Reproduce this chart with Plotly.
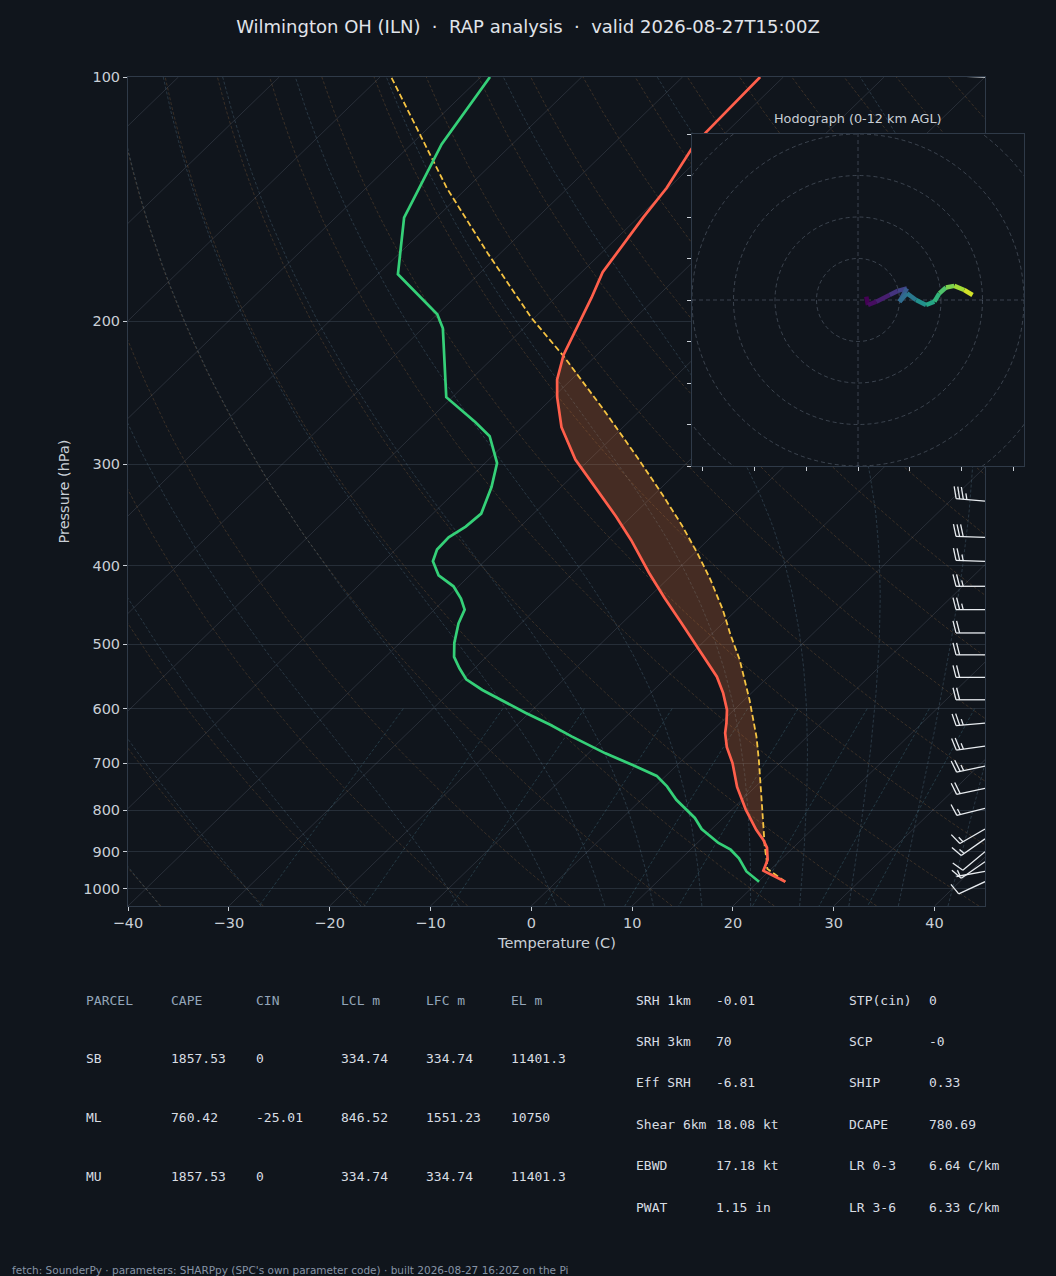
"""
Skew-T / hodograph panel for ILN, RAP analysis, redrawn with Plotly.
"""

import numpy as np
import plotly.graph_objects as go
from plotly.colors import sample_colorscale

# ---- sounding (hPa, degC) ----
temp_p = [980, 950, 921, 890, 870, 846, 799, 749, 700, 669, 643, 625, 602, 574,
          548, 512, 470, 438, 408, 372, 348, 316, 296, 270, 248, 236, 220, 187,
          174, 149, 137, 122, 117, 100]
temp_c = [22.7, 19.4, 18.7, 17.4, 16.2, 14.5, 11.4, 8.2, 5.3, 3.1, 1.5, 0.6, -0.7,
          -2.8, -5.1, -9.1, -14.2, -18.4, -22.5, -27.6, -31.5, -37.4, -41.4, -46.1,
          -49.6, -51.4, -53.3, -56.4, -57.9, -59.5, -60.2, -61.8, -62.0, -62.3]

dwpt_p = [980, 952, 917, 895, 878, 844, 818, 777, 748, 726, 704, 681, 649, 628,
          607, 585, 569, 552, 535, 518, 498, 471, 453, 439, 424, 411, 395, 382,
          369, 358, 345, 320, 299, 277, 266, 248, 204, 196, 175, 149, 121, 100]
dwpt_c = [20.1, 17.8, 15.7, 14.0, 12.1, 9.0, 7.2, 3.5, 1.2, -0.9, -4.4, -8.3, -13.4,
          -16.7, -20.4, -24.2, -27.0, -29.7, -31.5, -33.2, -34.6, -36.2, -37.0, -38.5,
          -40.5, -43.1, -45.1, -45.9, -46.0, -45.4, -45.2, -46.9, -48.8, -52.3, -55.2,
          -60.6, -68.0, -70.0, -78.0, -83.2, -87.0, -89.1]

parcel_p = [980, 945, 921, 888, 788, 694, 650, 585, 522, 487, 453, 416, 386, 356,
            329, 296, 257, 221, 198, 165, 137, 100]
parcel_c = [22.7, 19.6, 18.6, 17.1, 12.5, 7.6, 5.0, 0.5, -4.6, -8.0, -11.4, -15.7,
            -19.7, -24.2, -28.8, -35.1, -43.7, -53.1, -60.3, -71.2, -82.0, -98.9]

# positive area is shaded between these pressures (LFC-ish .. EL)
cape_bottom, cape_top = 890, 220

# wind barbs along the right edge (hPa, kt, direction from)
barb_p = [100, 333, 369, 395, 424, 453, 484, 515, 549, 585, 625, 667, 706, 752,
          796, 844, 868, 900, 926, 952, 980]
barb_kt = [30, 35, 30, 25, 25, 25, 20, 20, 20, 20, 25, 25, 25, 20, 15, 15, 15,
           10, 10, 5, 10]
barb_dir = [272, 275, 272, 272, 270, 270, 270, 270, 270, 270, 265, 262, 258, 258,
            256, 240, 235, 230, 235, 260, 245]

# hodograph trace (m/s) and height of each point (km AGL)
hodo_u = [2.0, 2.4, 4.4, 7.6, 9.6, 11.8, 10.0, 11.8, 14.0, 16.4, 18.4, 19.6, 21.2,
          23.2, 25.6, 27.6]
hodo_v = [0.8, -1.2, -0.4, 1.2, 2.2, 2.8, -0.4, 1.6, 0.0, -1.2, -0.4, 1.6, 3.0,
          3.4, 2.4, 1.2]
hodo_z = [0.0, 0.4, 1.0, 1.8, 2.4, 3.4, 4.2, 4.8, 6.0, 7.0, 7.8, 8.6, 9.6, 10.3,
          11.2, 12.0]
hodo_rings = [10, 20, 30, 40, 50, 60]

# parameter tables
parcel_cols = ["PARCEL", "CAPE", "CIN", "LCL m", "LFC m", "EL m"]
parcel_rows = [
    ["SB", "1857.53", "0", "334.74", "334.74", "11401.3"],
    ["ML", "760.42", "-25.01", "846.52", "1551.23", "10750"],
    ["MU", "1857.53", "0", "334.74", "334.74", "11401.3"],
]
kin_labels = ["SRH 1km", "SRH 3km", "Eff SRH", "Shear 6km", "EBWD", "PWAT"]
kin_values = ["-0.01", "70", "-6.81", "18.08 kt", "17.18 kt", "1.15 in"]
idx_labels = ["STP(cin)", "SCP", "SHIP", "DCAPE", "LR 0-3", "LR 3-6"]
idx_values = ["0", "-0", "0.33", "780.69", "6.64 C/km", "6.33 C/km"]

TITLE = "Wilmington OH (ILN)  \u00b7  RAP analysis  \u00b7  valid 2026-08-27T15:00Z"
FOOTER = ("fetch: SounderPy \u00b7 parameters: SHARPpy (SPC's own parameter code) "
          "\u00b7 built 2026-08-27 16:20Z on the Pi")

# ---- look ----
BG = "#10151c"
FG = "#c9cfd6"
FRAME = "#2f3a48"
T_COL, TD_COL, PCL_COL = "#ff5f4b", "#35d078", "#f5c342"
SANS, MONO = "DejaVu Sans", "DejaVu Sans Mono"
FINE_DASH = "3px,2px"

FIG_W, FIG_H = 1056, 1276
MAIN_L, MAIN_R, MAIN_T, MAIN_B = 128, 985, 77, 906
HODO_L, HODO_R, HODO_T, HODO_B = 692, 1024, 134, 466

XMIN, XMAX = -40, 45
PTOP, PBOT = 100, 1050
LOGSPAN = np.log10(PBOT / PTOP)
SKEW = XMAX - XMIN          # 45 deg skew in axes fraction
XPX = (MAIN_R - MAIN_L) / (XMAX - XMIN)
YPX = (MAIN_B - MAIN_T) / LOGSPAN

RD, CP, LV, EPS = 287.04749, 1004.6662, 2.50084e6, 0.621957


def px(x):
    return x / FIG_W


def py(y):
    return 1 - y / FIG_H


def skew_x(t, p):
    return np.asarray(t, float) + SKEW * np.log10(PBOT / np.asarray(p, float)) / LOGSPAN


def sat_vap(tk):
    tc = tk - 273.15
    return 6.112 * np.exp(17.67 * tc / (tc + 243.5))


def moist_dtdp(p, tk):
    es = sat_vap(tk)
    rs = EPS * es / (p - es)
    return (RD * tk + LV * rs) / (CP + LV * LV * rs * EPS / (RD * tk * tk)) / p


def moist_adiabats(t0_c, pgrid):
    # RK4 from 1000 hPa both ways
    out = np.zeros((len(t0_c), len(pgrid)))
    i0 = int(np.argmin(np.abs(pgrid - 1000)))
    out[:, i0] = np.asarray(t0_c, float) + 273.15
    for rng in (range(i0, len(pgrid) - 1), range(i0, 0, -1)):
        t = np.asarray(t0_c, float) + 273.15
        for i in rng:
            j = i + 1 if rng.step == 1 else i - 1
            p, h = pgrid[i], pgrid[j] - pgrid[i]
            k1 = moist_dtdp(p, t)
            k2 = moist_dtdp(p + h / 2, t + h / 2 * k1)
            k3 = moist_dtdp(p + h / 2, t + h / 2 * k2)
            k4 = moist_dtdp(p + h, t + h * k3)
            t = t + h / 6 * (k1 + 2 * k2 + 2 * k3 + k4)
            out[:, j] = t
    return out - 273.15


def add_lines(fig, xs, ys, color, width=1, dash=None):
    x, y = [], []
    for a, b in zip(xs, ys):
        x += list(a) + [None]
        y += list(b) + [None]
    fig.add_trace(go.Scatter(x=x, y=y, mode="lines", hoverinfo="skip",
                             line=dict(color=color, width=width, dash=dash)))


def barb_segments(p0, spd, wdir, staff=29, full=12, lean=3, gap=3.6):
    d = np.radians(wdir)
    ux, uy = np.sin(d), -np.cos(d)      # screen px, y down
    qx, qy = -uy, ux                    # feather side
    segs = [[(0, 0), (staff * ux, staff * uy)]]
    n_full, rem = divmod(int(round(spd / 5.0)) * 5, 10)
    s = staff
    for _ in range(n_full):
        bx, by = s * ux, s * uy
        segs.append([(bx, by), (bx + full * qx + lean * ux, by + full * qy + lean * uy)])
        s -= gap
    if rem:
        if n_full == 0:
            s -= gap
        bx, by = s * ux, s * uy
        segs.append([(bx, by), (bx + full / 2 * qx + lean / 2 * ux,
                                by + full / 2 * qy + lean / 2 * uy)])
    xs, ps = [], []
    for seg in segs:
        xs.append([XMAX + ox / XPX for ox, oy in seg])
        ps.append([p0 * 10 ** (oy / YPX) for ox, oy in seg])
    return xs, ps


fig = go.Figure()

# ---- thermodynamic background ----
pgrid = np.linspace(PBOT, PTOP, 96)

iso_t = np.arange(-130, 50, 10)
add_lines(fig, [[t, t + SKEW] for t in iso_t], [[PBOT, PTOP]] * len(iso_t),
          "rgba(150,162,178,0.24)", 0.8)

dry_t0 = np.arange(XMIN, XMAX + 201, 10)
dry = [(t0 + 273.15) * (pgrid / 1000.0) ** (RD / CP) - 273.15 for t0 in dry_t0]
add_lines(fig, [skew_x(t, pgrid) for t in dry], [pgrid] * len(dry),
          "rgba(190,130,70,0.30)", 0.8, FINE_DASH)

moist_t0 = np.concatenate((np.arange(XMIN, 0, 10), np.arange(0, XMAX + 1, 5)))
moist = moist_adiabats(moist_t0, pgrid)
add_lines(fig, [skew_x(t, pgrid) for t in moist], [pgrid] * len(moist),
          "rgba(100,140,165,0.36)", 0.8, FINE_DASH)

mix_w = [0.0004, 0.001, 0.002, 0.004, 0.007, 0.01, 0.016, 0.024, 0.032]
mix_p = np.linspace(600, PBOT, 20)
mix_lines = []
for w in mix_w:
    lne = np.log(mix_p * w / (EPS + w) / 6.112)
    mix_lines.append(243.5 * lne / (17.67 - lne))
add_lines(fig, [skew_x(t, mix_p) for t in mix_lines], [mix_p] * len(mix_w),
          "rgba(80,140,160,0.38)", 0.8, FINE_DASH)

# ---- CAPE shading ----
pp, pc = np.array(parcel_p, float), np.array(parcel_c, float)
tp, tc = np.array(temp_p, float), np.array(temp_c, float)
mp = (pp <= cape_bottom) & (pp >= cape_top)
mt = (tp <= cape_bottom) & (tp >= cape_top)
fill_x = list(skew_x(pc[mp], pp[mp])) + list(skew_x(tc[mt], tp[mt])[::-1])
fill_p = list(pp[mp]) + list(tp[mt][::-1])
fig.add_trace(go.Scatter(x=fill_x, y=fill_p, mode="lines", fill="toself",
                         fillcolor="rgba(240,120,60,0.24)", line=dict(width=0),
                         hoverinfo="skip"))

# ---- profiles ----
fig.add_trace(go.Scatter(x=skew_x(parcel_c, parcel_p), y=parcel_p, mode="lines",
                         line=dict(color=PCL_COL, width=1.8, dash="6px,3px")))
fig.add_trace(go.Scatter(x=skew_x(temp_c, temp_p), y=temp_p, mode="lines",
                         line=dict(color=T_COL, width=2.7)))
fig.add_trace(go.Scatter(x=skew_x(dwpt_c, dwpt_p), y=dwpt_p, mode="lines",
                         line=dict(color=TD_COL, width=2.7)))

# ---- wind barbs ----
bx, bp = [], []
for p0, s, d in zip(barb_p, barb_kt, barb_dir):
    xs, ps = barb_segments(p0, s, d)
    bx += xs
    bp += ps
add_lines(fig, bx, bp, "#e8ecf0", 1.3)

# ---- hodograph inset ----
seg_cols = sample_colorscale("Viridis", [z / max(hodo_z) for z in hodo_z])
for i in range(len(hodo_u) - 1):
    fig.add_trace(go.Scatter(x=hodo_u[i:i + 2], y=hodo_v[i:i + 2], mode="lines",
                             xaxis="x2", yaxis="y2", hoverinfo="skip",
                             line=dict(color=seg_cols[i], width=4.5)))

ring_style = dict(color="rgba(120,132,148,0.42)", width=1, dash="4px,3px")
shapes = [dict(type="circle", xref="x2", yref="y2", x0=-r, x1=r, y0=-r, y1=r,
               line=ring_style, layer="below") for r in hodo_rings]
shapes += [
    dict(type="line", xref="x2", yref="y2", x0=-40, x1=40, y0=0, y1=0,
         line=ring_style, layer="below"),
    dict(type="line", xref="x2", yref="y2", x0=0, x1=0, y0=-40, y1=40,
         line=ring_style, layer="below"),
]

# ---- text ----
ann = [
    dict(text="Temperature (C)", x=px((MAIN_L + MAIN_R) / 2), y=py(943),
         font=dict(size=14.5, color=FG)),
    dict(text="Pressure (hPa)", x=px(63), y=py((MAIN_T + MAIN_B) / 2), textangle=-90,
         font=dict(size=14.5, color=FG)),
    dict(text="Hodograph (0-12 km AGL)", x=px((HODO_L + HODO_R) / 2), y=py(119),
         font=dict(size=12.8, color=FG)),
    dict(text=FOOTER, x=px(10), y=py(1270), xanchor="left",
         font=dict(size=10.5, color="#8794a6")),
]
col_x = [84, 169, 254, 339, 424, 509]
for cx, head in zip(col_x, parcel_cols):
    ann.append(dict(text=head, x=px(cx), y=py(1000), xanchor="left",
                    font=dict(family=MONO, size=13, color="#93a5b9")))
for r, row in enumerate(parcel_rows):
    for cx, val in zip(col_x, row):
        ann.append(dict(text=val, x=px(cx), y=py(1058.7 + 58.7 * r), xanchor="left",
                        font=dict(family=MONO, size=13, color="#d8dde3")))
for r in range(len(kin_labels)):
    yy = py(1000 + 41.46 * r)
    for cx, txt in zip([634, 714, 847, 927],
                       [kin_labels[r], kin_values[r], idx_labels[r], idx_values[r]]):
        ann.append(dict(text=txt, x=px(cx), y=yy, xanchor="left",
                        font=dict(family=MONO, size=13, color="#d8dde3")))
for a in ann:
    a.setdefault("xref", "paper")
    a.setdefault("yref", "paper")
    a.setdefault("showarrow", False)
    a.setdefault("xanchor", "center")
    a.setdefault("yanchor", "middle")

tick_font = dict(family=SANS, size=14.5, color=FG)
fig.update_layout(
    width=FIG_W, height=FIG_H,
    margin=dict(l=0, r=0, t=0, b=0),
    paper_bgcolor=BG, plot_bgcolor=BG,
    showlegend=False,
    font=dict(family=SANS, color=FG),
    title=dict(text=TITLE, x=0.5, xanchor="center", y=py(27), yanchor="middle",
               font=dict(size=18, color="#e0e4ea")),
    xaxis=dict(domain=[px(MAIN_L), px(MAIN_R)], range=[XMIN, XMAX], anchor="y",
               tickvals=list(range(-40, 41, 10)), ticks="outside", ticklen=4,
               tickcolor=FG, tickfont=tick_font, showgrid=False, zeroline=False,
               showline=True, mirror=True, linecolor=FRAME, linewidth=1,
               automargin=False),
    yaxis=dict(domain=[py(MAIN_B), py(MAIN_T)], type="log",
               range=[np.log10(PBOT), np.log10(PTOP)], anchor="x",
               tickvals=list(range(100, 1001, 100)),
               ticktext=[str(v) for v in range(100, 1001, 100)],
               ticks="outside", ticklen=4, tickcolor=FG, tickfont=tick_font,
               showgrid=True, gridcolor="#262e38", gridwidth=1, zeroline=False,
               showline=True, mirror=True, linecolor=FRAME, linewidth=1,
               automargin=False),
    xaxis2=dict(domain=[px(HODO_L), px(HODO_R)], range=[-40, 40], anchor="y2",
                tickvals=[-37.5, -25, -12.5, 0, 12.5, 25, 37.5], showticklabels=False,
                ticks="outside", ticklen=4, tickcolor=FG, showgrid=False,
                zeroline=False, showline=True, mirror=True, linecolor=FRAME,
                automargin=False),
    yaxis2=dict(domain=[py(HODO_B), py(HODO_T)], range=[-40, 40], anchor="x2",
                tickvals=list(range(-40, 41, 10)), showticklabels=False,
                ticks="outside", ticklen=4, tickcolor=FG, showgrid=False,
                zeroline=False, showline=True, mirror=True, linecolor=FRAME,
                automargin=False),
    shapes=shapes,
    annotations=ann,
)

fig.write_html("out.html", config={"displayModeBar": False},
               post_script="document.body.style.margin = '0px';")
